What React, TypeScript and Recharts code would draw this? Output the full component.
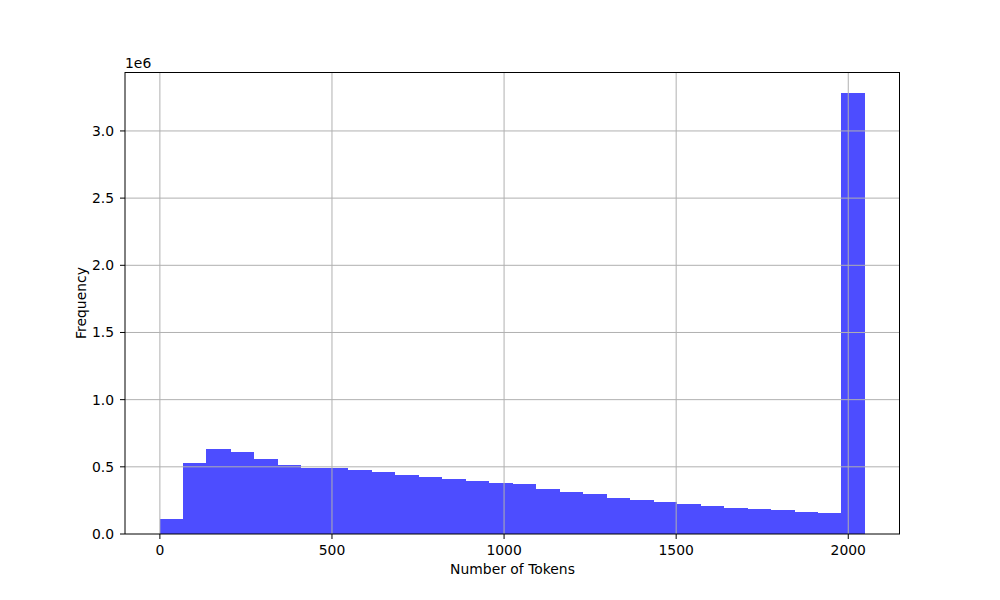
import React from "react";
import {
  ComposedChart,
  Bar,
  XAxis,
  YAxis,
  ReferenceLine,
} from "recharts";

// histogram of token counts, 30 bins between 1 and 2048
const binMin = 1;
const binMax = 2048;
const binCount = 30;

// bin heights, in millions
const counts = [
  0.104, 0.521, 0.625, 0.603, 0.551, 0.506, 0.485, 0.485, 0.469, 0.454,
  0.432, 0.417, 0.402, 0.387, 0.372, 0.365, 0.328, 0.305, 0.29, 0.261,
  0.246, 0.231, 0.216, 0.201, 0.186, 0.179, 0.171, 0.156, 0.149, 3.275,
];

const xTicks = [0, 500, 1000, 1500, 2000];
const yTicks = [0, 0.5e6, 1.0e6, 1.5e6, 2.0e6, 2.5e6, 3.0e6];

const binWidth = (binMax - binMin) / binCount;
const data = counts.map((c, i) => ({
  x: binMin + (i + 0.5) * binWidth,
  count: c * 1e6,
}));

const xPad = (binMax - binMin) * 0.05;
const xDomain = [binMin - xPad, binMax + xPad];
const yDomain = [0, Math.max(...counts) * 1e6 * 1.05];

const FONT = "DejaVu Sans, sans-serif";
const GRID = "#b0b0b0";
const BAR = "#4d4dff";

function YLabel(props: any) {
  const vb = props.viewBox || {};
  const cx = (vb.x || 0) + 81;
  const cy = (vb.y || 0) + (vb.height || 0) / 2;
  return (
    <text
      x={cx}
      y={cy}
      transform={`rotate(-90, ${cx}, ${cy})`}
      textAnchor="middle"
      dominantBaseline="central"
      fontFamily={FONT}
      fontSize={13.9}
      fill="#000"
    >
      Frequency
    </text>
  );
}

export default function App() {
  return (
    <div style={{ position: "absolute", left: 0, top: 0, width: 1000, height: 600, background: "#fff" }}>
      <ComposedChart
        width={1000}
        height={600}
        data={data}
        margin={{ top: 72, right: 100, bottom: 0, left: 0 }}
        barCategoryGap={0}
        barGap={0}
      >
        <XAxis
          dataKey="x"
          type="number"
          domain={xDomain}
          allowDataOverflow
          ticks={xTicks}
          height={66}
          stroke="#000"
          tickSize={5}
          tickMargin={6}
          tick={{ fill: "#000", fontSize: 13.9, fontFamily: FONT }}
          label={{
            value: "Number of Tokens",
            position: "insideBottom",
            offset: 26,
            fill: "#000",
            fontSize: 13.9,
            fontFamily: FONT,
          }}
        />
        <YAxis
          type="number"
          domain={yDomain}
          allowDataOverflow
          ticks={yTicks}
          width={125}
          stroke="#000"
          tickSize={5}
          tickMargin={6}
          tickFormatter={(v: number) => (v / 1e6).toFixed(1)}
          tick={{ fill: "#000", fontSize: 13.9, fontFamily: FONT }}
          label={<YLabel />}
        />
        <Bar
          dataKey="count"
          fill={BAR}
          stroke={BAR}
          strokeWidth={1.4}
          shapeRendering="crispEdges"
          isAnimationActive={false}
        />
        {xTicks.map((t) => (
          <ReferenceLine key={"gx" + t} x={t} stroke={GRID} strokeWidth={1} />
        ))}
        {yTicks.slice(1).map((t) => (
          <ReferenceLine key={"gy" + t} y={t} stroke={GRID} strokeWidth={1} />
        ))}
      </ComposedChart>
      <div
        style={{
          position: "absolute",
          left: 125,
          top: 72,
          width: 775,
          height: 462,
          borderTop: "1px solid #000",
          borderRight: "1px solid #000",
          boxSizing: "border-box",
          pointerEvents: "none",
        }}
      />
      <div
        style={{
          position: "absolute",
          left: 125,
          top: 55,
          fontFamily: FONT,
          fontSize: 13.9,
          color: "#000",
          lineHeight: "normal",
        }}
      >
        1e6
      </div>
    </div>
  );
}
